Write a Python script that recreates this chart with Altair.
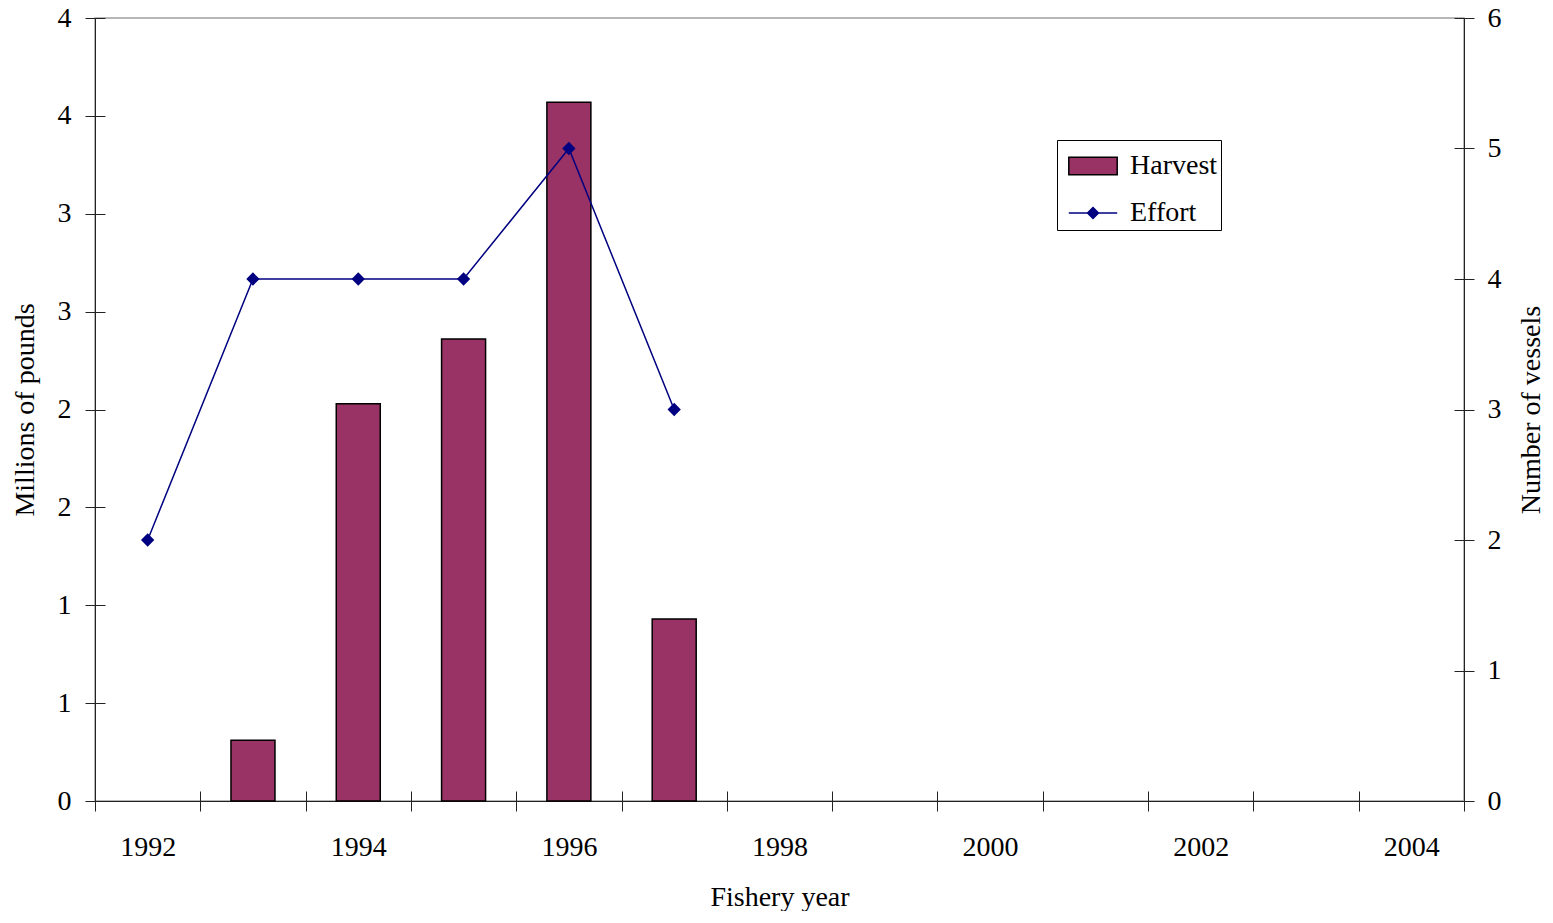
import altair as alt
import pandas as pd

# ---- data ----
harvest_years = [1993, 1994, 1995, 1996, 1997]
harvest_mlbs = [0.31, 2.03, 2.36, 3.57, 0.93]
effort_years = [1992, 1993, 1994, 1995, 1996, 1997]
effort_vessels = [2, 4, 4, 4, 5, 3]
x_tick_values = [1991.5 + i for i in range(14)]
left_tick_values = [0, 0.5, 1, 1.5, 2, 2.5, 3, 3.5, 4]
right_tick_values = [0, 1, 2, 3, 4, 5, 6]
series_names = ["Harvest", "Effort"]
fill_colors = ["#993366", "#000080"]
stroke_colors = ["black", "#000080"]

harvest_df = pd.DataFrame({"year": harvest_years, "value": harvest_mlbs, "series": "Harvest"})
effort_df = pd.DataFrame({"year": effort_years, "value": effort_vessels, "series": "Effort"})

FONT = "Liberation Serif"
FS = 28
W, H = 1369, 783
step = W / 13.0
TICK = 10

x_scale = alt.Scale(domain=[1991.5, 2004.5], nice=False, zero=False, padding=0)
left_scale = alt.Scale(domain=[0, 4], nice=False)
right_scale = alt.Scale(domain=[0, 6], nice=False)

x_axis = alt.Axis(
    title="Fishery year",
    orient="bottom",
    values=x_tick_values,
    labelExpr="(datum.value + 0.5) % 2 == 0 ? format(datum.value + 0.5, 'd') : ''",
    labelOffset=step / 2,
    labelOverlap=False,
    labelBound=False,
    labelFlush=False,
    tickSize=TICK,
    labelPadding=22,
    titlePadding=22,
    grid=False,
)

# inner halves of the crossing tick marks
x_axis_inner = alt.Axis(
    orient="bottom", values=x_tick_values, offset=-TICK, tickSize=TICK,
    labels=False, domain=False, title=None, grid=False,
)
left_axis_inner = alt.Axis(
    orient="left", values=left_tick_values, offset=-TICK, tickSize=TICK,
    labels=False, domain=False, title=None, grid=False,
)
right_axis_inner = alt.Axis(
    orient="right", values=right_tick_values, offset=-TICK, tickSize=TICK,
    labels=False, domain=False, title=None, grid=False,
)

fill_scale = alt.Scale(domain=series_names, range=fill_colors)
stroke_scale = alt.Scale(domain=series_names, range=stroke_colors)

legend = alt.Legend(
    title=None,
    orient="none",
    legendX=962,
    legendY=122,
    strokeColor="black",
    fillColor="white",
    padding=3,
    symbolSize=44 * 44,
    symbolOffset=10,
    labelOffset=14,
    rowPadding=10,
    labelFont=FONT,
    labelFontSize=FS,
    labelColor="black",
    symbolStrokeWidth=1.5,
    symbolType={"expr": "datum.value == 'Harvest' ? 'M-1.1,-0.4H1.1V0.4H-1.1Z' : 'M-1.1,0H1.1M0,-0.25L0.25,0L0,0.25L-0.25,0Z'"},
)

bars = alt.Chart(harvest_df).mark_bar(size=44, stroke="black", strokeWidth=1.5).encode(
    x=alt.X("year:Q", scale=x_scale, axis=x_axis),
    y=alt.Y(
        "value:Q",
        scale=left_scale,
        axis=alt.Axis(
            title="Millions of pounds",
            orient="left",
            values=left_tick_values,
            labelExpr="'' + ceil(datum.value)",
            tickSize=TICK,
            labelPadding=14,
            titlePadding=18,
            grid=False,
        ),
    ),
    fill=alt.Fill("series:N", scale=fill_scale, legend=legend),
)

line = alt.Chart(effort_df).mark_line(
    strokeWidth=1.5,
    point=alt.OverlayMarkDef(shape="diamond", filled=True, size=110, fill="#000080"),
).encode(
    x=alt.X("year:Q", scale=x_scale, axis=x_axis_inner),
    y=alt.Y(
        "value:Q",
        scale=right_scale,
        axis=alt.Axis(
            title="Number of vessels",
            orient="right",
            values=right_tick_values,
            format="d",
            tickSize=TICK,
            labelPadding=13,
            titlePadding=44,
            titleAngle=270,
            grid=False,
        ),
    ),
    stroke=alt.Stroke("series:N", scale=stroke_scale, legend=legend),
)

ghost_left = alt.Chart(harvest_df).mark_point(opacity=0).encode(
    x=alt.X("year:Q", scale=x_scale, axis=None),
    y=alt.Y("value:Q", scale=left_scale, axis=left_axis_inner),
)

ghost_right = alt.Chart(effort_df).mark_point(opacity=0).encode(
    x=alt.X("year:Q", scale=x_scale, axis=None),
    y=alt.Y("value:Q", scale=right_scale, axis=right_axis_inner),
)

chart = (
    alt.layer(bars, line, ghost_left, ghost_right)
    .resolve_scale(y="independent")
    .resolve_axis(x="independent", y="independent")
    .properties(
        width=W,
        height=H,
        background="white",
        autosize=alt.AutoSizeParams(type="none"),
        padding={"left": 87, "top": 10, "right": 80, "bottom": 110},
    )
    .configure_view(stroke="#a0a0a0", strokeWidth=1.5)
    .configure_axis(
        labelFont=FONT,
        labelFontSize=FS,
        labelColor="black",
        titleFont=FONT,
        titleFontSize=FS,
        titleFontWeight="normal",
        titleColor="black",
        domainColor="#222222",
        tickColor="#222222",
        domainWidth=1,
        tickWidth=1,
    )
)

chart.save("out.html", embed_options={"renderer": "svg", "actions": False})
